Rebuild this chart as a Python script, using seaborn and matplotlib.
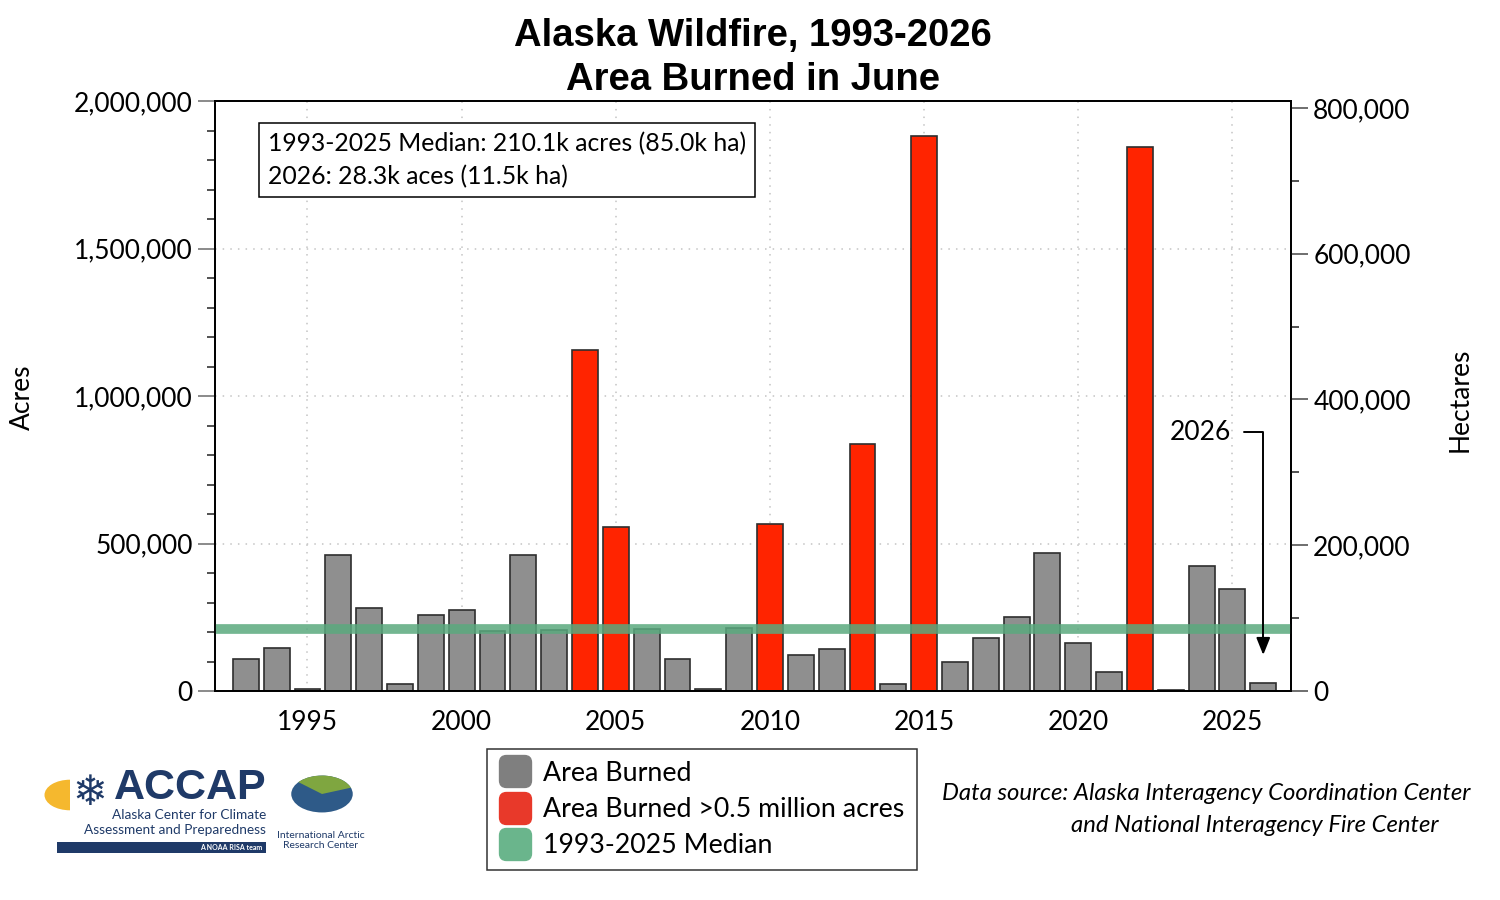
import matplotlib
matplotlib.use("Agg")
import matplotlib.pyplot as plt
import matplotlib.ticker as mticker
from matplotlib.lines import Line2D
from matplotlib.patches import Circle, Rectangle, Wedge, FancyBboxPatch
import numpy as np
import pandas as pd
import seaborn as sns

# June area burned, acres
years = list(range(1993, 2027))
acres = [108000, 146000, 6000, 462000, 281000, 25000, 256000, 273000, 202000, 462000,
         207000, 1156000, 557000, 211000, 108000, 6000, 213000, 566000, 122000, 144000,
         837000, 23000, 1881000, 98000, 178000, 251000, 468000, 164000, 66000, 1843000,
         2000, 423000, 347000, 28300]
median_acres = 210100
big_limit = 500000
ha_per_acre = 0.404686

df = pd.DataFrame({"year": years, "acres": acres})
df["cat"] = np.where(df["acres"] > big_limit, "big", "normal")

sns.set_style("white")
plt.rcParams["font.family"] = ["Lato", "DejaVu Sans"]
plt.rcParams["text.color"] = "black"
plt.rcParams["xtick.labelcolor"] = "black"
plt.rcParams["ytick.labelcolor"] = "black"

fig = plt.figure(figsize=(15, 9), dpi=100)
ax = fig.add_axes([215 / 1500, 1 - 691 / 900, 1076 / 1500, 590 / 900])

sns.barplot(data=df, x="year", y="acres", hue="cat",
            palette={"normal": "#8f8f8f", "big": "#ff2400"}, saturation=1,
            native_scale=True, dodge=False, width=0.84,
            edgecolor="#2e2e2e", linewidth=1.2, legend=False, ax=ax, zorder=2)

ax.axhline(median_acres, color="#5aa97e", alpha=0.85, lw=7, zorder=3)

ax.set_xlim(1992, 2026.9)
ax.set_ylim(0, 2000000)
ax.xaxis.set_major_locator(mticker.MultipleLocator(5))
ax.xaxis.set_minor_locator(mticker.MultipleLocator(1))
ax.yaxis.set_major_locator(mticker.MultipleLocator(500000))
ax.yaxis.set_minor_locator(mticker.MultipleLocator(100000))
ax.yaxis.set_major_formatter(mticker.FuncFormatter(lambda v, p: f"{v:,.0f}"))
ax.xaxis.set_major_formatter(mticker.FuncFormatter(lambda v, p: f"{v:.0f}"))
ax.tick_params(axis="both", which="major", direction="out", length=12, width=1.2,
               color="#777777", labelsize=19, pad=4)
ax.tick_params(axis="both", which="minor", direction="out", length=6, width=1.2,
               color="#333333")
ax.tick_params(axis="x", which="major", pad=2)
ax.set_xlabel("")
ax.set_ylabel("")
ax.grid(True, which="major", axis="both", color="#c4c4c4", ls=(0, (1, 4)), lw=1.1)
ax.set_axisbelow(True)
for s in ax.spines.values():
    s.set_color("black")
    s.set_linewidth(1.3)

# hectares axis
ax2 = ax.twinx()
ax2.set_ylim(0, 2000000 * ha_per_acre)
ax2.yaxis.set_major_locator(mticker.MultipleLocator(200000))
ax2.yaxis.set_minor_locator(mticker.MultipleLocator(100000))
ax2.yaxis.set_major_formatter(mticker.FuncFormatter(lambda v, p: f"{v:,.0f}"))
ax2.tick_params(axis="y", which="major", direction="out", length=12, width=1.2,
                color="#555555", labelsize=19, pad=4)
ax2.tick_params(axis="y", which="minor", direction="out", length=6, width=1.2,
                color="#333333")
for s in ax2.spines.values():
    s.set_color("black")
    s.set_linewidth(1.3)

ax.set_title("Alaska Wildfire, 1993-2026\nArea Burned in June", fontsize=27.5,
             fontweight="bold", family="Liberation Sans", linespacing=1.28,
             pad=8, color="black")
fig.text(22 / 1500, 1 - 397 / 900, "Acres", rotation=90, fontsize=19,
         ha="center", va="center")
fig.text(1460 / 1500, 1 - 400 / 900, "Hectares", rotation=90, fontsize=19,
         ha="center", va="center")

# 2026 pointer
ax.annotate("2026", xy=(2026, 122000), xytext=(2024.95, 877000),
            ha="right", va="center", fontsize=19,
            arrowprops=dict(arrowstyle="-|>,head_length=0.55,head_width=0.22",
                            color="black", lw=1.4,
                            connectionstyle="angle,angleA=0,angleB=90,rad=0",
                            shrinkA=7, shrinkB=0))

# median summary box
fig.text(268 / 1500, 1 - 160 / 900,
         "1993-2025 Median: 210.1k acres (85.0k ha)\n2026: 28.3k aces (11.5k ha)",
         fontsize=17.8, ha="left", va="center", linespacing=1.5,
         bbox=dict(boxstyle="square,pad=0.35", fc="white", ec="black", lw=1.1))

# legend with rounded square swatches
rsq = FancyBboxPatch((-0.5, -0.5), 1, 1,
                     boxstyle="round,pad=0,rounding_size=0.22").get_path()
handles = [Line2D([], [], ls="none", marker=rsq, ms=23, mfc=c, mec=c)
           for c in ["#7f7f7f", "#e8392a", "#6ab58c"]]
labels = ["Area Burned", "Area Burned >0.5 million acres", "1993-2025 Median"]
leg = fig.legend(handles, labels, loc="center",
                 bbox_to_anchor=(702 / 1500, 1 - 809.5 / 900), fontsize=19.3,
                 frameon=True, fancybox=False, edgecolor="black",
                 labelspacing=0.42, handletextpad=0.45, borderpad=0.45,
                 handlelength=1.2, borderaxespad=0)
leg.get_frame().set_linewidth(1.1)

fig.text(1206 / 1500, 1 - 794 / 900,
         "Data source: Alaska Interagency Coordination Center",
         fontsize=17.2, style="italic", ha="center", va="center")
fig.text(1255 / 1500, 1 - 825 / 900, "and National Interagency Fire Center",
         fontsize=17.2, style="italic", ha="center", va="center")

# logos, drawn roughly
navy = "#1f3a68"
fig.patches.append(Wedge((70 / 1500, 1 - 795 / 900), 0.017, 90, 270,
                         transform=fig.transFigure, fc="#f5b82e", ec="none"))
fig.text(90 / 1500, 1 - 793 / 900, "\u2744", fontsize=30, color=navy,
         ha="center", va="center", family="DejaVu Sans")
fig.text(114 / 1500, 1 - 788 / 900, "ACCAP", fontsize=31, fontweight="bold",
         color=navy, family="Liberation Sans", ha="left", va="center")
fig.text(266 / 1500, 1 - 815 / 900, "Alaska Center for Climate", fontsize=9.8,
         color=navy, ha="right", va="center")
fig.text(266 / 1500, 1 - 830 / 900, "Assessment and Preparedness", fontsize=9.8,
         color=navy, ha="right", va="center")
fig.patches.append(Rectangle((57 / 1500, 1 - 853 / 900), 209 / 1500, 11 / 900,
                             transform=fig.transFigure, fc=navy, ec="none"))
fig.text(262 / 1500, 1 - 848 / 900, "A NOAA RISA team", fontsize=5, color="white",
         fontweight="bold", ha="right", va="center")
fig.patches.append(Circle((322 / 1500, 1 - 794 / 900), 0.0205,
                          transform=fig.transFigure, fc="#2e5a88", ec="none"))
fig.patches.append(Wedge((322 / 1500, 1 - 794 / 900), 0.0205, 20, 140,
                         transform=fig.transFigure, fc="#7fa640", ec="none"))
fig.text(321 / 1500, 1 - 835 / 900, "International Arctic", fontsize=7.5,
         color=navy, ha="center", va="center")
fig.text(321 / 1500, 1 - 846 / 900, "Research Center", fontsize=7.5,
         color=navy, ha="center", va="center")

fig.savefig("out.png", dpi=100, facecolor="white")
